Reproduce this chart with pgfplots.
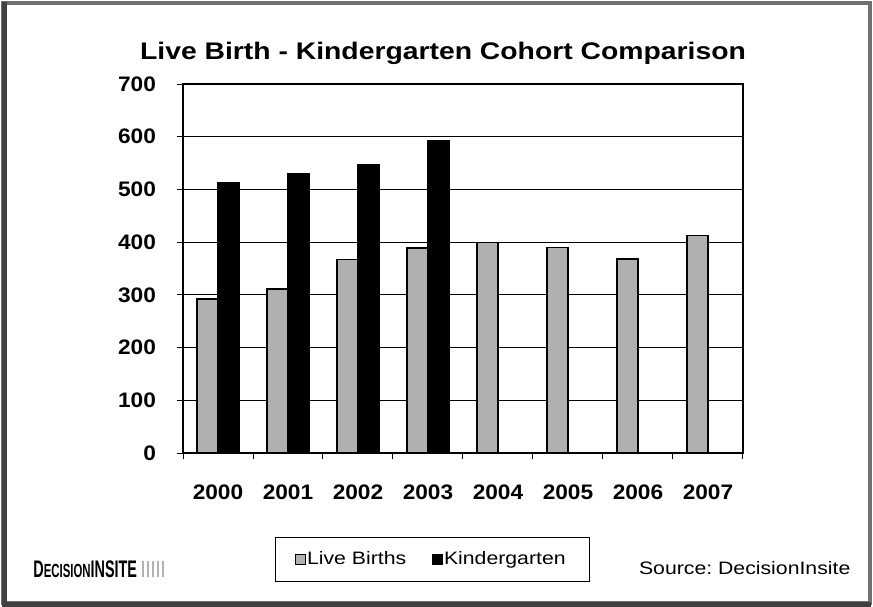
\documentclass[border=0pt]{standalone}
\usepackage{pgfplots}
\pgfplotsset{compat=1.18}
\usepackage{fontspec}
\setmainfont{Liberation Sans}
\newfontfamily\widefont[FakeStretch=1.18]{Liberation Sans}
\newfontfamily\tickfont[FakeStretch=1.08]{Liberation Sans}
\definecolor{livegray}{HTML}{B0B0B0}
\definecolor{framegray}{HTML}{707070}
\begin{document}
\begin{tikzpicture}[x=0.5pt,y=0.5pt]
% canvas 873 x 606 px, 1px = 0.5pt, y up from bottom
\path[use as bounding box] (0,0) rectangle (873,606);
\fill[white] (0,0) rectangle (873,606);
\draw[framegray, line width=1.6pt] (3,3) rectangle (870,603);
\draw[black!75, line width=2.5pt] (4,2) -- (4,604);
\draw[black!75, line width=2.5pt] (2,2) -- (871,2);
% title
\node[font=\widefont\fontsize{12}{14}\selectfont\bfseries] at (443,553) {Live Birth - Kindergarten Cohort Comparison};
\begin{axis}[
  at={(91.5pt,76.5pt)}, anchor=south west,
  scale only axis, width=280pt, height=184.5pt,
  xmin=-0.5, xmax=7.5, ymin=0, ymax=700,
  ytick={0,100,...,700},
  xtick={0,...,7},
  xticklabels={2000,2001,2002,2003,2004,2005,2006,2007},
  minor xtick={-0.5,0.5,...,7.5},
  major x tick style={draw=none},
  tick align=outside, tick pos=left,
  major tick length=3pt, minor tick length=3pt,
  tick style={black, line width=0.5pt},
  ymajorgrids, grid style={black, line width=0.5pt},
  axis line style={black, line width=0.6pt},
  ticklabel style={font=\tickfont\fontsize{10.5}{12}\selectfont\bfseries},
  /pgf/number format/assume math mode=true,
  yticklabel style={xshift=-7pt},
  xticklabel style={yshift=-9.5pt},
  ybar, bar width=0.3,
  legend style={at={(0.4455,-0.288)}, anchor=center, draw=black, line width=0.5pt,
    font=\widefont\fontsize{9}{11}\selectfont, legend columns=2,
    /tikz/every even column/.append style={column sep=11pt},
    inner xsep=10pt, inner ysep=5pt},
  legend image code/.code={\draw[#1, line width=0.4pt] (0pt,-2.4pt) rectangle (5pt,2.6pt);},
]
\addplot[bar shift=-0.15, fill=livegray, draw=black, line width=0.6pt]
  coordinates {(0,292) (1,311) (2,367) (3,389) (4,399) (5,390) (6,368) (7,413)};
\addlegendentry{\hspace{-1.5pt}Live Births}
\addplot[bar shift=0.15, fill=black, draw=black, line width=0.6pt]
  coordinates {(0,513) (1,530) (2,548) (3,593)};
\addlegendentry{\hspace{-1.5pt}Kindergarten}
\end{axis}
% source
\node[font=\widefont\fontsize{9}{11}\selectfont, anchor=west] at (632,38) {Source:\ DecisionInsite};
% logo
\node[font=\bfseries, anchor=west, inner sep=0pt] at (33,37)
  {\scalebox{0.6}[1]{\fontsize{12}{12}\selectfont D\fontsize{9.5}{12}\selectfont ECISION}\scalebox{0.6}[1]{\fontsize{12}{12}\selectfont INSITE}};
\foreach \xx in {143,148,153,158,163}{
  \draw[black!30, line width=1.2pt] (\xx,29) -- (\xx,45);
}
\end{tikzpicture}
\end{document}
